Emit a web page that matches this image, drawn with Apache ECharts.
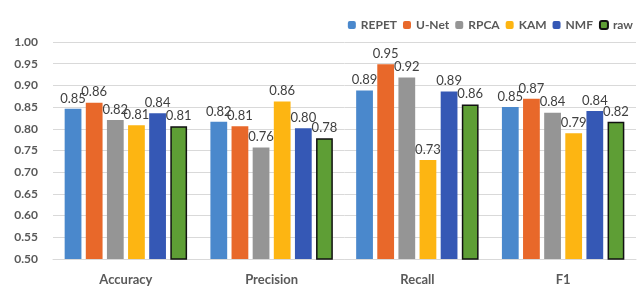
<!DOCTYPE html>
<html>
<head>
<meta charset="utf-8">
<script src="https://cdn.jsdelivr.net/npm/echarts@6/dist/echarts.min.js"></script>
<style>
  html, body { margin: 0; padding: 0; background: #fff; }
  #chart { width: 640px; height: 292px; }
</style>
</head>
<body>
<div id="chart"></div>
<script>
// metrics on the x axis
const categories = ['Accuracy', 'Precision', 'Recall', 'F1']
const methods = ['REPET', 'U-Net', 'RPCA', 'KAM', 'NMF', 'raw']

// values, one array per method
const repet = [0.846, 0.816, 0.888, 0.850]
const unet = [0.860, 0.806, 0.949, 0.869]
const rpca = [0.820, 0.757, 0.918, 0.837]
const kam = [0.808, 0.863, 0.728, 0.790]
const nmf = [0.836, 0.801, 0.886, 0.841]
const raw = [0.806, 0.778, 0.856, 0.816]

const yTicks = [0.5, 1.0, 0.05] // min, max, interval

const colors = ['#4a88cc', '#e8682a', '#959595', '#fdb512', '#3558b5', '#5e9e35']
const seriesData = [repet, unet, rpca, kam, nmf, raw]

const font = 'Lato, "Open Sans", sans-serif'

const series = methods.map((name, i) => {
  const s = {
    name: name,
    type: 'bar',
    data: seriesData[i],
    barGap: '26%',
    barCategoryGap: '16%',
    itemStyle: { color: colors[i] },
    label: {
      show: true,
      position: 'top',
      distance: 4,
      color: '#404040',
      fontFamily: font,
      fontSize: 13,
      formatter: p => p.value.toFixed(2)
    }
  }
  if (name === 'raw') {
    s.itemStyle.borderColor = '#111'
    s.itemStyle.borderWidth = 1.5
  }
  return s
})

const options = {
  animation: false,
  textStyle: { fontFamily: font },
  legend: {
    top: 14,
    right: 2,
    itemWidth: 8,
    itemHeight: 8,
    itemGap: 6,
    data: methods,
    textStyle: { fontFamily: font, fontSize: 12, fontWeight: 'bold', color: '#595959' }
  },
  grid: { left: 53, right: 4, top: 42, bottom: 33 },
  xAxis: {
    type: 'category',
    data: categories,
    axisTick: { show: false },
    axisLine: { lineStyle: { color: '#d9d9d9' } },
    axisLabel: { margin: 14, fontFamily: font, fontSize: 13, fontWeight: 'bold', color: '#595959' }
  },
  yAxis: {
    type: 'value',
    min: yTicks[0],
    max: yTicks[1],
    interval: yTicks[2],
    axisLine: { show: false },
    axisTick: { show: false },
    splitLine: { lineStyle: { color: '#d9d9d9' } },
    axisLabel: {
      margin: 15,
      fontFamily: font,
      fontSize: 12,
      fontWeight: 'bold',
      color: '#595959',
      formatter: v => v.toFixed(2)
    }
  },
  series: series
}

const chart = echarts.init(document.getElementById('chart'))
chart.setOption(options)
</script>
</body>
</html>
